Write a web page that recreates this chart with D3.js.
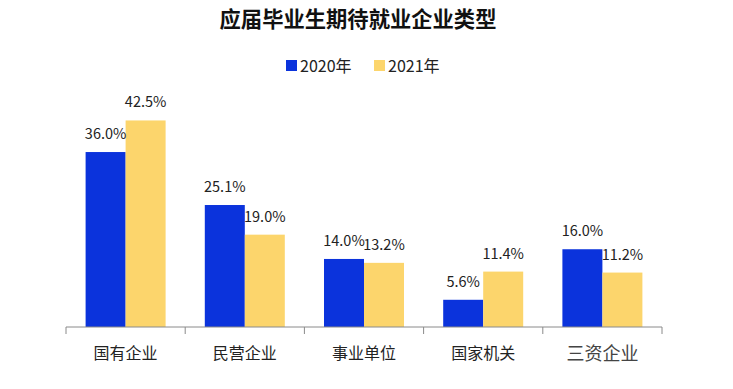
<!DOCTYPE html>
<html>
<head>
<meta charset="UTF-8">
<script src="https://d3js.org/d3.v7.min.js"></script>
<style>
  body { margin: 0; background: #fff; }
  svg text { font-family: "Noto Sans CJK SC", "Noto Sans", sans-serif; }
</style>
</head>
<body>
<div id="chart"></div>
<script>
// datos del gráfico
const categories = ["国有企业", "民营企业", "事业单位", "国家机关", "三资企业"];
const seriesNames = ["2020年", "2021年"];
const values2020 = [36.0, 25.1, 14.0, 5.6, 16.0];
const values2021 = [42.5, 19.0, 13.2, 11.4, 11.2];
const colors = ["#0b33dc", "#fcd56c"];

const width = 733, height = 389;
const svg = d3.select("#chart").append("svg")
    .attr("width", width)
    .attr("height", height);

const baseY = 327;
const x0 = d3.scaleBand().domain(categories).range([66, 662]).paddingInner(0).paddingOuter(0);
const x1 = d3.scaleBand().domain(seriesNames).range([0, x0.bandwidth()]).paddingInner(0).paddingOuter(0.49);
const y = d3.scaleLinear().domain([0, 45]).range([baseY, baseY - 45 * 4.86]);

// título
svg.append("text")
    .attr("x", 358).attr("y", 27)
    .attr("text-anchor", "middle")
    .attr("font-size", 21.3).attr("font-weight", "bold")
    .attr("fill", "#111")
    .text("应届毕业生期待就业企业类型");

// leyenda
const legend = svg.append("g");
const legendX = [286, 374];
seriesNames.forEach((s, i) => {
    legend.append("rect")
        .attr("x", legendX[i]).attr("y", 60)
        .attr("width", 11).attr("height", 11)
        .attr("fill", colors[i]);
    legend.append("text")
        .attr("x", legendX[i] + 14).attr("y", 72)
        .attr("font-size", 16).attr("fill", "#222")
        .text(s);
});

const rows = categories.map((c, i) => ({ cat: c, vals: [values2020[i], values2021[i]] }));

const groups = svg.append("g").selectAll("g")
    .data(rows)
    .join("g")
    .attr("transform", d => `translate(${x0(d.cat)},0)`);

groups.selectAll("rect")
    .data(d => d.vals.map((v, i) => ({ key: seriesNames[i], v, i })))
    .join("rect")
    .attr("x", d => x1(d.key))
    .attr("width", x1.bandwidth())
    .attr("y", d => y(d.v))
    .attr("height", d => baseY - y(d.v))
    .attr("fill", d => colors[d.i]);

groups.selectAll("text.val")
    .data(d => d.vals.map((v, i) => ({ key: seriesNames[i], v })))
    .join("text")
    .attr("class", "val")
    .attr("x", d => x1(d.key) + x1.bandwidth() / 2)
    .attr("y", d => y(d.v) - 13)
    .attr("text-anchor", "middle")
    .attr("font-size", 14.5).attr("fill", "#222")
    .text(d => d.v.toFixed(1) + "%");

// eje x
const axis = svg.append("g").attr("transform", `translate(0,${baseY})`);
axis.append("line")
    .attr("x1", 66).attr("x2", 662)
    .attr("stroke", "#8a8a8a").attr("stroke-width", 1);
const tickXs = categories.map(c => x0(c)).concat([x0.range()[1]]);
axis.selectAll("line.tick")
    .data(tickXs)
    .join("line")
    .attr("class", "tick")
    .attr("x1", d => d).attr("x2", d => d)
    .attr("y1", 0).attr("y2", 7)
    .attr("stroke", "#8a8a8a");

axis.selectAll("text.cat")
    .data(categories)
    .join("text")
    .attr("class", "cat")
    .attr("x", d => x0(d) + x0.bandwidth() / 2)
    .attr("y", (d, i) => i === 4 ? 33 : 32)
    .attr("text-anchor", "middle")
    .attr("font-size", (d, i) => i === 4 ? 18 : 16)
    .attr("fill", (d, i) => i === 4 ? "#444" : "#222")
    .text(d => d);
</script>
</body>
</html>
